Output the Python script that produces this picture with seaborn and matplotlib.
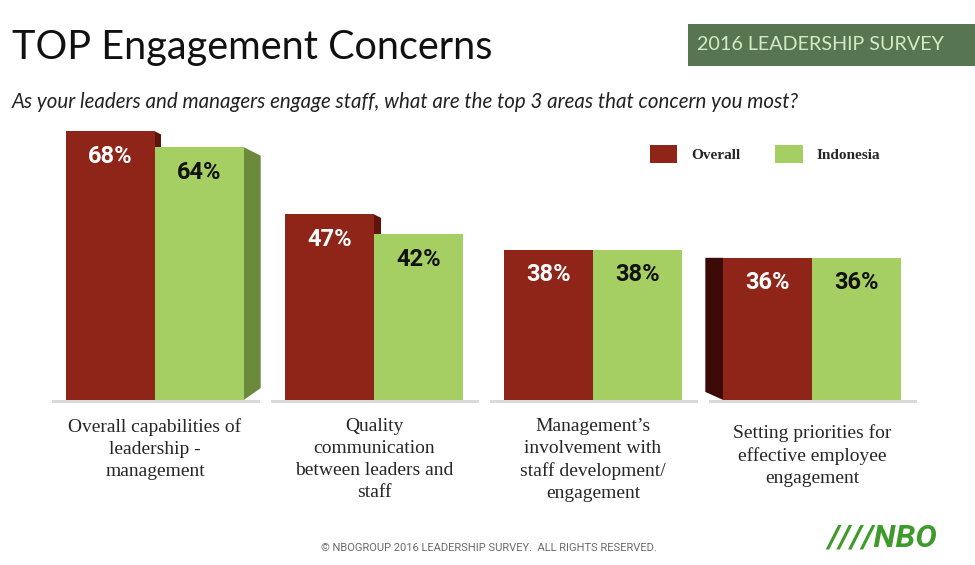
import pandas as pd
import matplotlib
matplotlib.use('Agg')
import matplotlib.pyplot as plt
import seaborn as sns
from matplotlib.patches import Polygon, Rectangle
from matplotlib.transforms import ScaledTranslation

# data
categories = [
    'Overall capabilities of\nleadership -\nmanagement',
    'Quality\ncommunication\nbetween leaders and\nstaff',
    'Management\u2019s\ninvolvement with\nstaff development/\nengagement',
    'Setting priorities for\neffective employee\nengagement',
]
overall = [68, 47, 38, 36]
indonesia = [64, 42, 38, 36]
series = ['Overall', 'Indonesia']

df = pd.DataFrame({
    'area': categories * 2,
    'pct': overall + indonesia,
    'group': ['Overall'] * 4 + ['Indonesia'] * 4,
})

RED = '#8f2419'
GREEN = '#a5cf62'
colors = {'Overall': RED, 'Indonesia': GREEN}
side_colors = {'Overall': '#5e130c', 'Indonesia': '#6b8a3b'}
# 3d side depth in px (positive = right side, negative = left side)
side_px = {(0, 'Overall'): 6, (0, 'Indonesia'): 17, (1, 'Overall'): 7, (3, 'Overall'): -18}

SERIF = ['Liberation Serif', 'DejaVu Serif']

sns.set_theme(style='white')
plt.rcParams['font.family'] = ['Lato', 'DejaVu Sans']

fig = plt.figure(figsize=(9.75, 5.65), dpi=100)
PX_X = 219.0   # px per category
PX_Y = 3.95    # px per percent
ymax = 70
ax = fig.add_axes([0, 165 / 565, 1, ymax * PX_Y / 565])

sns.barplot(data=df, x='area', y='pct', hue='group', hue_order=series,
            palette=colors, width=0.81, saturation=1, linewidth=0, ax=ax, zorder=2)

ax.set_xlim(-155 / PX_X, 820 / PX_X)
ax.set_ylim(0, ymax)
ax.set_xlabel('')
ax.set_ylabel('')
ax.set_yticks([])
sns.despine(ax=ax, left=True, bottom=True)
ax.tick_params(axis='x', length=0, pad=13)
for lab in ax.get_xticklabels():
    lab.set_fontfamily(SERIF)
    lab.set_fontsize(14)
    lab.set_linespacing(1.38)
    lab.set_verticalalignment('top')
last = ax.get_xticklabels()[-1]
last.set_transform(last.get_transform() + ScaledTranslation(0, -0.06, fig.dpi_scale_trans))

dx = 1 / PX_X
dy = 1 / PX_Y
bars = ax.patches[:8]
for k, bar in enumerate(bars):
    s = series[k // 4]
    i = k % 4
    x0 = bar.get_x()
    w = bar.get_width()
    h = bar.get_height()
    # soft ground shadow
    ax.add_patch(Rectangle((x0 - 14 * dx, -0.7), w + 30 * dx, 0.7, color='#dadada',
                           zorder=1, lw=0, clip_on=False))
    d = side_px.get((i, s), 0)
    if d > 0:
        xe = x0 + w
        pts = [(xe, h), (xe + d * dx, h - 0.5 * d * dy), (xe + d * dx, 0.7 * d * dy), (xe, 0)]
        ax.add_patch(Polygon(pts, closed=True, color=side_colors[s], zorder=1.5, lw=0))
    elif d < 0:
        pts = [(x0, h), (x0 + d * dx, h), (x0 + d * dx, -0.45 * d * dy), (x0, 0)]
        ax.add_patch(Polygon(pts, closed=True, color='#3b0a06', zorder=1.5, lw=0))
    ax.annotate(f'{h:.0f}%', (x0 + w / 2, h), xytext=(0, -18), textcoords='offset points',
                ha='center', va='center', fontsize=17, fontweight='bold',
                family=['Roboto', 'DejaVu Sans'],
                color='white' if s == 'Overall' else '#111111', zorder=3)

sns.move_legend(ax, 'center', bbox_to_anchor=(765 / 975, 1 - 154 / 565),
                bbox_transform=fig.transFigure, ncol=2, title=None, frameon=False,
                handlelength=1.8, handleheight=1.4, columnspacing=2.3, handletextpad=0.9,
                prop=dict(family=SERIF, weight='bold', size=11))

# header
fig.text(12 / 975, 1 - 47 / 565, 'TOP Engagement Concerns', fontsize=28.5, color='#111111',
         va='center', ha='left')
fig.text(12 / 975, 1 - 102 / 565,
         'As your leaders and managers engage staff, what are the top 3 areas that concern you most?',
         fontsize=14.8, style='italic', color='#222222', va='center', ha='left')
fig.patches.append(Rectangle((688 / 975, 1 - 66 / 565), 300 / 975, 42 / 565,
                             transform=fig.transFigure, color='#587552', lw=0))
fig.text(697 / 975, 1 - 45 / 565, '2016 LEADERSHIP SURVEY', fontsize=14.2, color='#d2ebc2',
         va='center', ha='left')

# footer
fig.text(489 / 975, 1 - 548 / 565,
         '\u00a9 NBOGROUP 2016 LEADERSHIP SURVEY.  ALL RIGHTS RESERVED.',
         fontsize=8.0, color='#6a6a6a', va='center', ha='center', family=['Roboto', 'DejaVu Sans'])
fig.text(937 / 975, 1 - 538 / 565, '////NBO', fontsize=23, fontweight='bold', style='italic',
         color='#3f9a2c', va='center', ha='right', family=['Roboto', 'DejaVu Sans'])

fig.savefig('out.png', dpi=100, facecolor='white')
